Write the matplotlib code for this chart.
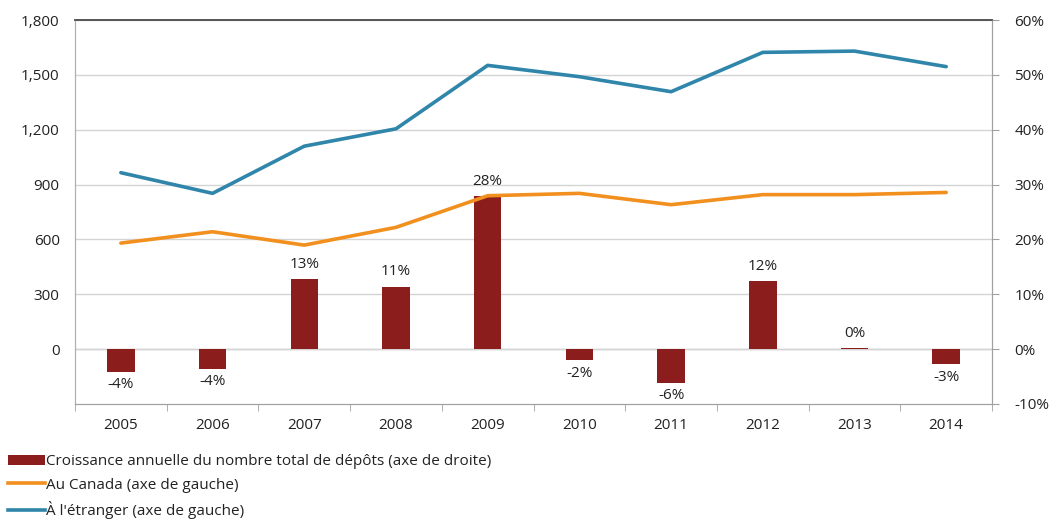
import matplotlib
matplotlib.use("Agg")
import matplotlib.pyplot as plt
from matplotlib.lines import Line2D
from matplotlib.patches import Patch
import numpy as np

plt.rcParams['font.family'] = ['Open Sans', 'DejaVu Sans']

years = ['2005', '2006', '2007', '2008', '2009', '2010', '2011', '2012', '2013', '2014']
growth_pct = [-4.1, -3.6, 12.7, 11.4, 27.9, -2.0, -6.1, 12.4, 0.2, -2.8]
canada = [580, 642, 569, 666, 839, 852, 790, 845, 845, 857]
abroad = [965, 852, 1110, 1205, 1552, 1490, 1408, 1623, 1630, 1545]

legend_labels = [
    "Croissance annuelle du nombre total de dépôts (axe de droite)",
    "Au Canada (axe de gauche)",
    "À l'étranger (axe de gauche)",
]

bar_color = '#8c1d1d'
canada_color = '#f2901f'
abroad_color = '#2f86aa'
text_color = '#222222'
fs = 11

fig = plt.figure(figsize=(10.61, 5.20), dpi=100)
ax = fig.add_axes([0.0707, 0.2231, 0.8643, 0.7384])
ax2 = ax.twinx()

x = np.arange(len(years))

# Growth bars on the right-hand axis
ax2.bar(x, growth_pct, width=0.3, color=bar_color, zorder=3)
ax2.set_ylim(-10, 60)
ax2.set_yticks(np.arange(-10, 61, 10))
ax2.set_yticklabels([f"{v}%" for v in range(-10, 61, 10)])
for xi, v in zip(x, growth_pct):
    if v >= 0:
        ax2.text(xi, v + 1.3, f"{round(v):d}%", ha='center', va='bottom',
                 fontsize=fs, color=text_color)
    else:
        ax2.text(xi, v - 1.0, f"{round(v):d}%", ha='center', va='top',
                 fontsize=fs, color=text_color)

# Filing counts on the left-hand axis
ax.set_ylim(-300, 1800)
ax.set_yticks(np.arange(0, 1801, 300))
ax.set_yticklabels([f"{v:,}" for v in range(0, 1801, 300)])
ax.grid(axis='y', color='#d4d4d4', linewidth=1, zorder=0)
ax.axhline(0, color='#c8c8c8', linewidth=1, zorder=1)

ax2.plot(x, [v / 1800 * 60 for v in canada], color=canada_color, linewidth=2.6,
         solid_capstyle='round', zorder=4)
ax2.plot(x, [v / 1800 * 60 for v in abroad], color=abroad_color, linewidth=2.6,
         solid_capstyle='round', zorder=4)

ax.set_xlim(-0.5, len(years) - 0.5)
ax.set_xticks(x)
ax.set_xticklabels(years)
ax.set_xticks(np.arange(-0.5, len(years)), minor=True)
ax.tick_params(axis='x', which='major', length=0, pad=10, labelsize=fs, colors=text_color)
ax.tick_params(axis='x', which='minor', length=5, color='#a0a0a0', direction='out')
ax.tick_params(axis='y', length=0, pad=11, labelsize=fs, colors=text_color)
ax2.tick_params(axis='y', length=5, direction='out', pad=11, labelsize=fs)
for lab in ax2.get_yticklabels():
    lab.set_color(text_color)
ax2.yaxis.set_tick_params(color='#a0a0a0')

for a in (ax, ax2):
    a.spines['top'].set_color('#555555')
    a.spines['top'].set_linewidth(1.2)
    a.spines['left'].set_color('#b0b0b0')
    a.spines['right'].set_color('#a0a0a0')
    a.spines['bottom'].set_color('#a0a0a0')

handles = [
    Patch(facecolor=bar_color, edgecolor='none'),
    Line2D([0], [0], color=canada_color, linewidth=2.6),
    Line2D([0], [0], color=abroad_color, linewidth=2.6),
]
fig.legend(handles, legend_labels, loc='upper left', bbox_to_anchor=(0.002, 0.138),
           frameon=False, fontsize=fs, handlelength=2.4, handletextpad=0.1,
           labelspacing=0.55, borderaxespad=0.0, labelcolor=text_color)

fig.savefig('out.png', dpi=100)
